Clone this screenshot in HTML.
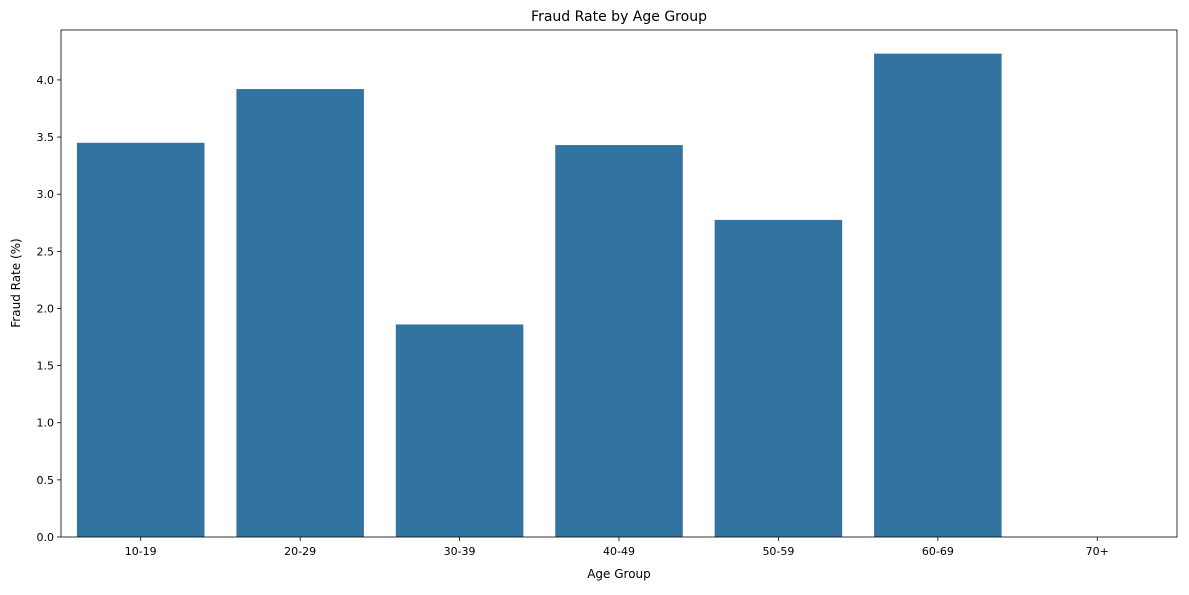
<!DOCTYPE html>
<html><head><meta charset="utf-8"><style>
body{margin:0;background:#fff;font-family:"Liberation Sans","DejaVu Sans",sans-serif;}
svg text{font-family:"DejaVu Sans","Liberation Sans",sans-serif;fill:#000;}
</style></head><body>
<svg id="chart" width="1189" height="590" xmlns="http://www.w3.org/2000/svg">
<rect width="1189" height="590" fill="#fff"/>
<g id="bars"></g><g id="axes"></g>
<text x="619" y="21" font-size="14" text-anchor="middle">Fraud Rate by Age Group</text>
<text x="619" y="578" font-size="12" text-anchor="middle">Age Group</text>
<text x="20" y="283" font-size="12" text-anchor="middle" transform="rotate(-90 20 283)">Fraud Rate (%)</text>
</svg>
<script>
const categories=["10-19","20-29","30-39","40-49","50-59","60-69","70+"];
const values=[3.45,3.92,1.86,3.43,2.775,4.23,0];
const yTicks=[0,0.5,1,1.5,2,2.5,3,3.5,4];
const L=61,R=1177,T=30,B=537,NS="http://www.w3.org/2000/svg";
const yMax=4.437;
const y=v=>B-(B-T)*v/yMax;
const band=(R-L)/categories.length;
const x=i=>L+band*i;
const bars=document.getElementById('bars'),axes=document.getElementById('axes');
function mk(t,a,p){const e=document.createElementNS(NS,t);for(const k in a)e.setAttribute(k,a[k]);p.appendChild(e);return e;}
values.forEach((v,i)=>{
 const r=mk('rect',{x:x(i)+band*0.1,y:y(v),width:band*0.8,height:B-y(v),fill:'#3274a1'},bars);
 
 
 mk('line',{x1:x(i)+band/2,x2:x(i)+band/2,y1:B,y2:B+4,stroke:'#000','stroke-width':0.8},axes);
 const t=mk('text',{x:x(i)+band/2,y:B+18,'font-size':11,'text-anchor':'middle'},axes);
 t.textContent=categories[i];
 
 
});
yTicks.forEach(v=>{
 mk('line',{x1:L-4,x2:L,y1:y(v),y2:y(v),stroke:'#000','stroke-width':0.8},axes);
 const t=mk('text',{x:L-7,y:y(v)+4,'font-size':11,'text-anchor':'end'},axes);
 t.textContent=v.toFixed(1);
 
 
});
const f=mk('rect',{x:L,y:T,width:R-L,height:B-T,fill:'none',stroke:'#000','stroke-width':0.8},axes);


</script>
</body></html>
